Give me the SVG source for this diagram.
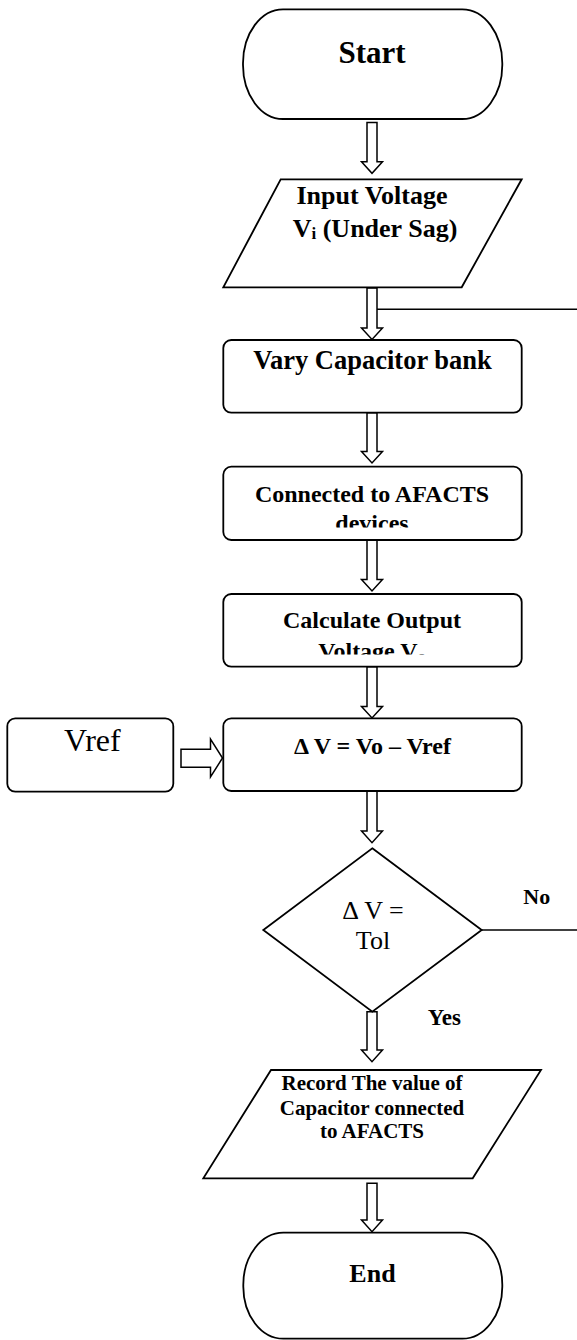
<svg xmlns="http://www.w3.org/2000/svg" width="577" height="1340" viewBox="0 0 577 1340">
<style>
.s{fill:#fff;stroke:#000;stroke-width:1.8}
.a{fill:#fff;stroke:#000;stroke-width:1.5}
.l{fill:none;stroke:#000;stroke-width:1.6}
.t{font-family:"Liberation Serif","Times New Roman",serif;fill:#000;text-anchor:middle}
.b{font-weight:bold}
</style>
<defs>
<clipPath id="c1"><rect x="224" y="466" width="297" height="61.5"/></clipPath>
<clipPath id="c2"><rect x="224" y="594" width="297" height="60.5"/></clipPath>
</defs>
<rect width="577" height="1340" fill="#fff"/>
<g id="connectors">
<path class="l" d="M377,309.3 H577"/>
<path class="l" d="M481.7,930 H577"/>
<path class="a" d="M367,122.5 H377 V161.7 H382.5 L372,173.3 L361.5,161.7 H367 Z"/>
<path class="a" d="M367,288 H377 V328 H382.5 L372,339.5 L361.5,328 H367 Z"/>
<path class="a" d="M367,412.7 H377 V451.5 H382.5 L372,463 L361.5,451.5 H367 Z"/>
<path class="a" d="M367,540 H377 V579.5 H382.5 L372,591 L361.5,579.5 H367 Z"/>
<path class="a" d="M367,666.7 H377 V706.5 H382.5 L372,718 L361.5,706.5 H367 Z"/>
<path class="a" d="M367,791 H377 V831 H382.5 L372,842.7 L361.5,831 H367 Z"/>
<path class="a" d="M367,1011.7 H377 V1050 H382.5 L372,1061.7 L361.5,1050 H367 Z"/>
<path class="a" d="M367,1183.3 H377 V1220 H382.5 L372,1231.7 L361.5,1220 H367 Z"/>
<path class="a" d="M181,749.3 H210.5 V739 L222.5,758 L210.5,777 V767.3 H181 Z"/>
</g>
<g id="start">
<rect class="s" x="243" y="9.3" width="259.3" height="109.7" rx="40" ry="54"/>
<text class="t b" x="372" y="63" font-size="31">Start</text>
</g>
<g id="input">
<polygon class="s" points="280.7,179.3 521.7,179.3 461.7,287.3 223.3,287.3"/>
<text class="t b" x="372" y="204" font-size="26">Input Voltage</text>
<text class="t b" x="375" y="236.5" font-size="26">V<tspan font-size="17" dy="2">i</tspan><tspan dy="-2"> (Under Sag)</tspan></text>
</g>
<g id="vary">
<rect class="s" x="223.3" y="340" width="298.4" height="72.7" rx="8"/>
<text class="t b" x="372.5" y="369" font-size="26.5">Vary Capacitor bank</text>
</g>
<g id="connected">
<rect class="s" x="223.3" y="466.7" width="298.4" height="73.3" rx="8"/>
<text class="t b" x="372" y="501.7" font-size="24">Connected to AFACTS</text>
<text class="t b" x="372" y="531" font-size="24" clip-path="url(#c1)">devices</text>
</g>
<g id="calculate">
<rect class="s" x="223.3" y="594" width="298.4" height="72.7" rx="8"/>
<text class="t b" x="372" y="628.3" font-size="24">Calculate Output</text>
<text class="t b" x="372" y="659" font-size="24" clip-path="url(#c2)">Voltage V<tspan font-size="16" dy="3">o</tspan></text>
</g>
<g id="vref">
<rect class="s" x="7.3" y="718.3" width="166" height="73.4" rx="8"/>
<text class="t" x="92.3" y="750.7" font-size="32">Vref</text>
</g>
<g id="deltav">
<rect class="s" x="223.3" y="718.3" width="298.4" height="72.7" rx="8"/>
<text class="t b" x="372.5" y="754" font-size="24">Δ V = Vo – Vref</text>
</g>
<g id="decision">
<polygon class="s" points="372.3,848.3 481.7,930 372.3,1011.7 263.3,930"/>
<text class="t" x="373" y="919" font-size="26">Δ V =</text>
<text class="t" x="373" y="949.3" font-size="26">Tol</text>
</g>
<g id="labels">
<text class="t b" x="536.7" y="904.3" font-size="22">No</text>
<text class="t b" x="444.3" y="1025" font-size="23">Yes</text>
</g>
<g id="record">
<polygon class="s" points="271,1070 541,1070 472.7,1178.3 203.3,1178.3"/>
<text class="t b" x="372" y="1090" font-size="21">Record The value of</text>
<text class="t b" x="372" y="1115" font-size="21">Capacitor connected</text>
<text class="t b" x="372" y="1138.3" font-size="21">to AFACTS</text>
</g>
<g id="end">
<rect class="s" x="243.3" y="1232.7" width="259" height="106" rx="40" ry="52"/>
<text class="t b" x="372.5" y="1281.7" font-size="26">End</text>
</g>
</svg>
